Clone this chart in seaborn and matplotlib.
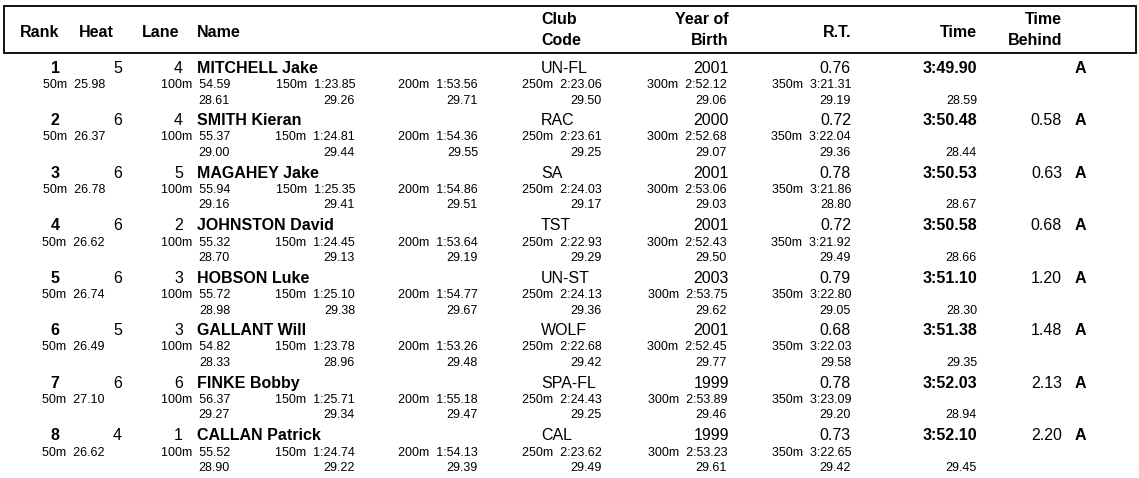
import matplotlib
matplotlib.use("Agg")
import matplotlib.pyplot as plt
import seaborn as sns

# --- data read from the results sheet ---
ranks = [1, 2, 3, 4, 5, 6, 7, 8]
heats = [5, 6, 6, 6, 6, 5, 6, 4]
lanes = [4, 4, 5, 2, 3, 3, 6, 1]
names = ["MITCHELL Jake", "SMITH Kieran", "MAGAHEY Jake", "JOHNSTON David",
         "HOBSON Luke", "GALLANT Will", "FINKE Bobby", "CALLAN Patrick"]
clubs = ["UN-FL", "RAC", "SA", "TST", "UN-ST", "WOLF", "SPA-FL", "CAL"]
births = [2001, 2000, 2001, 2001, 2003, 2001, 1999, 1999]
reaction = ["0.76", "0.72", "0.78", "0.72", "0.79", "0.68", "0.78", "0.73"]
final_times = ["3:49.90", "3:50.48", "3:50.53", "3:50.58",
               "3:51.10", "3:51.38", "3:52.03", "3:52.10"]
time_behind = ["", "0.58", "0.63", "0.68", "1.20", "1.48", "2.13", "2.20"]
qualified = ["A"] * 8

split_dist = ["50m", "100m", "150m", "200m", "250m", "300m", "350m"]
splits = [
    ["25.98", "54.59", "1:23.85", "1:53.56", "2:23.06", "2:52.12", "3:21.31"],
    ["26.37", "55.37", "1:24.81", "1:54.36", "2:23.61", "2:52.68", "3:22.04"],
    ["26.78", "55.94", "1:25.35", "1:54.86", "2:24.03", "2:53.06", "3:21.86"],
    ["26.62", "55.32", "1:24.45", "1:53.64", "2:22.93", "2:52.43", "3:21.92"],
    ["26.74", "55.72", "1:25.10", "1:54.77", "2:24.13", "2:53.75", "3:22.80"],
    ["26.49", "54.82", "1:23.78", "1:53.26", "2:22.68", "2:52.45", "3:22.03"],
    ["27.10", "56.37", "1:25.71", "1:55.18", "2:24.43", "2:53.89", "3:23.09"],
    ["26.62", "55.52", "1:24.74", "1:54.13", "2:23.62", "2:53.23", "3:22.65"],
]
# 50m lap times from 100m to 400m
laps = [
    ["28.61", "29.26", "29.71", "29.50", "29.06", "29.19", "28.59"],
    ["29.00", "29.44", "29.55", "29.25", "29.07", "29.36", "28.44"],
    ["29.16", "29.41", "29.51", "29.17", "29.03", "28.80", "28.67"],
    ["28.70", "29.13", "29.19", "29.29", "29.50", "29.49", "28.66"],
    ["28.98", "29.38", "29.67", "29.36", "29.62", "29.05", "28.30"],
    ["28.33", "28.96", "29.48", "29.42", "29.77", "29.58", "29.35"],
    ["29.27", "29.34", "29.47", "29.25", "29.46", "29.20", "28.94"],
    ["28.90", "29.22", "29.39", "29.49", "29.61", "29.42", "29.45"],
]

sns.set_theme(style="white")
plt.rcParams["font.family"] = ["Liberation Sans", "DejaVu Sans"]
plt.rcParams["text.color"] = "black"

W, H = 1139, 478
fig = plt.figure(figsize=(W / 100, H / 100), dpi=100)
ax = fig.add_axes([0, 0, 1, 1])
ax.set_xlim(0, W)
ax.set_ylim(H, 0)
ax.axis("off")

BIG = 11.5
SMALL = 9.0

# header box
ax.add_patch(plt.Rectangle((4, 6), 1132, 47, fill=False, lw=1.4, ec="#111111"))

def hdr(x, y, s, ha):
    ax.text(x, y, s, ha=ha, va="baseline", fontsize=BIG, fontweight="bold")

hdr(40, 37, "Rank", "center")
hdr(79, 37, "Heat", "left")
hdr(142, 37, "Lane", "left")
hdr(197, 37, "Name", "left")
hdr(541, 23.5, "Club", "left")
hdr(541, 45, "Code", "left")
hdr(729, 23.5, "Year of", "right")
hdr(729, 45, "Birth", "right")
hdr(851, 37, "R.T.", "right")
hdr(977, 37, "Time", "right")
hdr(1062, 23.5, "Time", "right")
hdr(1062, 45, "Behind", "right")

split_x = [105, 230, 355, 478, 602, 727, 851]
lap_x = split_x[1:] + [977]

for i in range(len(ranks)):
    yc = 67 + 52.5 * i
    yb = yc + 5.8
    ax.text(55, yb, str(ranks[i]), ha="center", va="baseline", fontsize=BIG, fontweight="bold")
    ax.text(122, yb, str(heats[i]), ha="right", va="baseline", fontsize=BIG)
    ax.text(183, yb, str(lanes[i]), ha="right", va="baseline", fontsize=BIG)
    ax.text(197, yb, names[i], ha="left", va="baseline", fontsize=BIG, fontweight="bold")
    ax.text(541, yb, clubs[i], ha="left", va="baseline", fontsize=BIG)
    ax.text(729, yb, str(births[i]), ha="right", va="baseline", fontsize=BIG)
    ax.text(851, yb, reaction[i], ha="right", va="baseline", fontsize=BIG)
    ax.text(977, yb, final_times[i], ha="right", va="baseline", fontsize=BIG, fontweight="bold")
    ax.text(1062, yb, time_behind[i], ha="right", va="baseline", fontsize=BIG)
    ax.text(1075, yb, qualified[i], ha="left", va="baseline", fontsize=BIG, fontweight="bold")

    ys = yc + 16.5 + 4.5
    for x, d, s in zip(split_x, split_dist, splits[i]):
        ax.text(x, ys, f"{d}  {s}", ha="right", va="baseline", fontsize=SMALL)
    yl = yc + 32 + 4.5
    for x, s in zip(lap_x, laps[i]):
        ax.text(x, yl, s, ha="right", va="baseline", fontsize=SMALL)

fig.savefig("out.png", dpi=100, facecolor="white")
